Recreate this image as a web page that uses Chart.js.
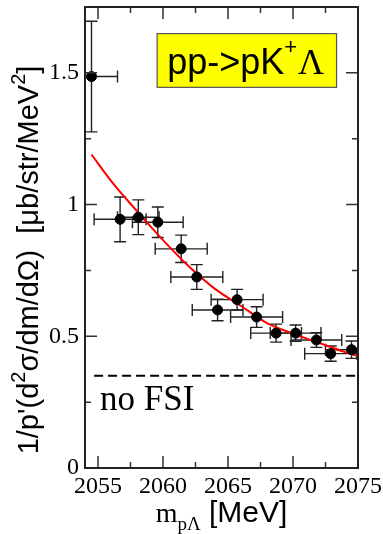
<!DOCTYPE html>
<html>
<head>
<meta charset="utf-8">
<script src="https://cdn.jsdelivr.net/npm/chart.js@4.4.0/dist/chart.umd.min.js"></script>
<style>
  html, body { margin: 0; padding: 0; background: #fff; }
</style>
</head>
<body>
<canvas id="chart" width="383" height="534"></canvas>
<script>
// measured points (pp -> pK+ Lambda)
const massValues = [2054.5, 2056.7, 2058.1, 2059.6, 2061.4, 2062.6, 2064.2, 2065.7, 2067.2, 2068.7, 2070.2, 2071.8, 2072.9, 2074.5];
const crossSection = [1.486, 0.944, 0.952, 0.933, 0.832, 0.725, 0.600, 0.639, 0.573, 0.512, 0.512, 0.486, 0.434, 0.449];
const crossSectionErr = [0.21, 0.085, 0.066, 0.058, 0.052, 0.047, 0.041, 0.039, 0.039, 0.034, 0.031, 0.028, 0.029, 0.033];
const massErr = [2.0, 2.0, 1.6, 1.95, 2.0, 2.0, 1.95, 2.0, 2.0, 1.95, 1.95, 1.95, 2.0, 2.0];

// FSI curve
const fitMass = [2054.5, 2056, 2058, 2060, 2062, 2064, 2066, 2068, 2070, 2072, 2074, 2075];
const fitValues = [1.19, 1.09, 0.975, 0.865, 0.765, 0.68, 0.615, 0.55, 0.51, 0.475, 0.44, 0.425];

// no FSI level
const noFsiMass = [2054.7, 2075];
const noFsiValues = [0.35, 0.35];

const xTickLabels = [2055, 2060, 2065, 2070, 2075];
const yTickLabels = [0, 0.5, 1, 1.5];

// where the annotations sit, in data units
const reactionBox = { x0: 2059.55, x1: 2073.35, y0: 1.445, y1: 1.649 };
const noFsiLabelAt = { x: 2055.15, y: 0.22 };

const isLabel = (list, v) => list.some(t => Math.abs(t - v) < 1e-6);

const errorBars = {
  id: 'errorBars',
  beforeDatasetsDraw(chart) {
    const { ctx, chartArea: a, scales: { x, y } } = chart;
    ctx.save();
    ctx.beginPath();
    ctx.rect(a.left, a.top, a.right - a.left, a.bottom - a.top);
    ctx.clip();
    ctx.strokeStyle = '#222';
    ctx.lineWidth = 1.4;
    massValues.forEach((m, i) => {
      const px = x.getPixelForValue(m);
      const py = y.getPixelForValue(crossSection[i]);
      const yt = y.getPixelForValue(crossSection[i] + crossSectionErr[i]);
      const yb = y.getPixelForValue(crossSection[i] - crossSectionErr[i]);
      const xl = x.getPixelForValue(m - massErr[i]);
      const xr = x.getPixelForValue(m + massErr[i]);
      ctx.beginPath();
      ctx.moveTo(px, yt); ctx.lineTo(px, yb);
      ctx.moveTo(px - 6, yt); ctx.lineTo(px + 6, yt);
      ctx.moveTo(px - 6, yb); ctx.lineTo(px + 6, yb);
      ctx.moveTo(xl, py); ctx.lineTo(xr, py);
      ctx.moveTo(xl, py - 6); ctx.lineTo(xl, py + 6);
      ctx.moveTo(xr, py - 6); ctx.lineTo(xr, py + 6);
      ctx.stroke();
    });
    ctx.restore();
  }
};

const frameAndText = {
  id: 'frameAndText',
  afterDraw(chart) {
    const { ctx, chartArea: a, scales: { x, y } } = chart;
    ctx.save();

    // inward ticks on all four sides
    ctx.strokeStyle = '#333';
    ctx.lineWidth = 1.5;
    x.ticks.forEach(t => {
      if (Math.abs(t.value / 2.5 - Math.round(t.value / 2.5)) > 1e-6) return;
      const px = x.getPixelForValue(t.value);
      if (px <= a.left + 1 || px >= a.right - 1) return;
      const len = isLabel(xTickLabels, t.value) ? 12 : 6;
      ctx.beginPath();
      ctx.moveTo(px, a.bottom); ctx.lineTo(px, a.bottom - len);
      ctx.moveTo(px, a.top); ctx.lineTo(px, a.top + len);
      ctx.stroke();
    });
    y.ticks.forEach(t => {
      const py = y.getPixelForValue(t.value);
      if (py <= a.top + 1 || py >= a.bottom - 1) return;
      const len = isLabel(yTickLabels, t.value) ? 12 : 6;
      ctx.beginPath();
      ctx.moveTo(a.left, py); ctx.lineTo(a.left + len, py);
      ctx.moveTo(a.right, py); ctx.lineTo(a.right - len, py);
      ctx.stroke();
    });

    // frame
    ctx.strokeStyle = '#222';
    ctx.lineWidth = 2;
    ctx.strokeRect(a.left, a.top, a.right - a.left, a.bottom - a.top);

    // reaction label box
    const bx0 = x.getPixelForValue(reactionBox.x0), bx1 = x.getPixelForValue(reactionBox.x1);
    const by0 = y.getPixelForValue(reactionBox.y1), by1 = y.getPixelForValue(reactionBox.y0);
    ctx.fillStyle = '#ffff00';
    ctx.fillRect(bx0, by0, bx1 - bx0, by1 - by0);
    ctx.strokeStyle = '#555';
    ctx.lineWidth = 1.2;
    ctx.strokeRect(bx0, by0, bx1 - bx0, by1 - by0);
    ctx.fillStyle = '#000';
    ctx.textBaseline = 'alphabetic';
    ctx.textAlign = 'left';
    let tx = bx0 + 10;
    const base = by0 + 40;
    ctx.font = '36px "Liberation Sans"';
    ctx.fillText('pp->pK', tx, base);
    tx += ctx.measureText('pp->pK').width;
    ctx.font = '22px "Liberation Sans"';
    ctx.fillText('+', tx, base - 20);
    tx += ctx.measureText('+').width + 1;
    ctx.font = '36px "Liberation Serif"';
    ctx.fillText('\u039B', tx, base);

    // no FSI
    ctx.font = '35px "Liberation Serif"';
    ctx.fillText('no FSI', x.getPixelForValue(noFsiLabelAt.x), y.getPixelForValue(noFsiLabelAt.y));

    // x title: m_pΛ [MeV]
    const cx = (a.left + a.right) / 2;
    const parts = [
      { s: 'm', f: '28px "Liberation Serif"', dy: 0 },
      { s: 'p\u039B', f: '19px "Liberation Serif"', dy: 8 },
      { s: ' [MeV]', f: '30px "Liberation Sans"', dy: 0 }
    ];
    let w = 0;
    parts.forEach(p => { ctx.font = p.f; p.w = ctx.measureText(p.s).width; w += p.w; });
    let px = cx - w / 2;
    const xb = 522;
    parts.forEach(p => { ctx.font = p.f; ctx.fillText(p.s, px, xb + p.dy); px += p.w; });

    // y title, rotated
    const yParts = [
      { s: '1/p\'(d', sup: false },
      { s: '2', sup: true },
      { s: '\u03C3/dm/d\u03A9)  [\u03BCb/str/MeV', sup: false },
      { s: '2', sup: true },
      { s: ']', sup: false }
    ];
    const mainFont = '29px "Liberation Sans"', supFont = '20px "Liberation Sans"';
    let yw = 0;
    yParts.forEach(p => { ctx.font = p.sup ? supFont : mainFont; p.w = ctx.measureText(p.s).width; yw += p.w; });
    ctx.translate(38, 260);
    ctx.rotate(-Math.PI / 2);
    let ox = -yw / 2;
    yParts.forEach(p => {
      ctx.font = p.sup ? supFont : mainFont;
      ctx.fillText(p.s, ox, p.sup ? -13 : 0);
      ox += p.w;
    });
    ctx.restore();
  }
};

new Chart(document.getElementById('chart'), {
  type: 'scatter',
  data: {
    datasets: [
      {
        label: 'data',
        data: massValues.map((m, i) => ({ x: m, y: crossSection[i] })),
        backgroundColor: '#000',
        borderColor: '#000',
        pointRadius: 5,
        order: 0
      },
      {
        type: 'line',
        label: 'FSI',
        data: fitMass.map((m, i) => ({ x: m, y: fitValues[i] })),
        borderColor: '#ff0000',
        borderWidth: 2,
        pointRadius: 0,
        cubicInterpolationMode: 'monotone',
        fill: false,
        order: 1
      },
      {
        type: 'line',
        label: 'no FSI',
        data: noFsiMass.map((m, i) => ({ x: m, y: noFsiValues[i] })),
        borderColor: '#000',
        borderWidth: 2,
        borderDash: [9, 5],
        pointRadius: 0,
        fill: false,
        order: 2
      }
    ]
  },
  options: {
    responsive: false,
    animation: false,
    layout: { padding: { top: 7, right: 25, left: 0, bottom: 0 } },
    plugins: { legend: { display: false }, tooltip: { enabled: false } },
    scales: {
      x: {
        type: 'linear',
        min: 2054,
        max: 2075,
        grid: { display: false, drawTicks: false },
        border: { display: false },
        ticks: {
          stepSize: 2.5,
          includeBounds: false,
          padding: 4,
          autoSkip: false,
          maxRotation: 0,
          color: '#000',
          font: { family: 'Liberation Serif', size: 24 },
          callback: v => isLabel(xTickLabels, v) ? String(v) : ''
        },
        afterFit: s => { s.height = 66; s.paddingLeft = 0; s.paddingRight = 0; }
      },
      y: {
        min: 0,
        max: 1.75,
        grid: { display: false, drawTicks: false },
        border: { display: false },
        ticks: {
          stepSize: 0.25,
          padding: 6,
          autoSkip: false,
          color: '#000',
          font: { family: 'Liberation Serif', size: 24 },
          callback: v => isLabel(yTickLabels, v) ? String(v) : ''
        },
        afterFit: s => { s.width = 85; s.paddingTop = 0; s.paddingBottom = 0; }
      }
    }
  },
  plugins: [errorBars, frameAndText]
});
</script>
</body>
</html>
